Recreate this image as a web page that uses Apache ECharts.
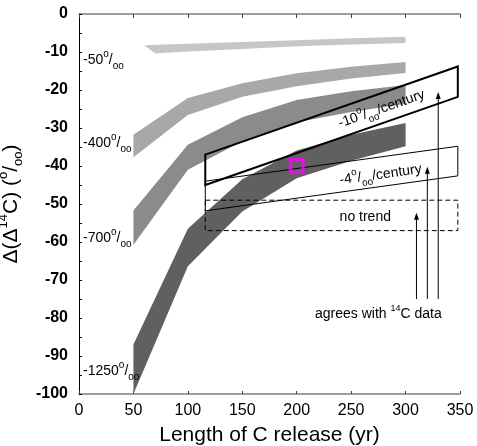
<!DOCTYPE html>
<html>
<head>
<meta charset="utf-8">
<script src="https://cdn.jsdelivr.net/npm/echarts@6/dist/echarts.min.js"></script>
<style>
  html, body { margin: 0; padding: 0; background: #fff; }
  #chart { width: 477px; height: 446px; }
</style>
</head>
<body>
<div id="chart"></div>
<script>
// Modelled Δ(Δ14C) envelopes (per mil) versus length of C release (yr),
// one band per size of the 14C-depleted release.
const band50Upper   = [[60, -8.2], [100, -7.8], [150, -7.4], [200, -6.9], [250, -6.4], [300, -6.0]];
const band50Lower   = [[70, -10.4], [100, -9.9], [150, -9.2], [200, -8.5], [250, -8.0], [300, -7.6]];
const band400Upper  = [[50, -31.8], [100, -22.1], [150, -18.2], [200, -15.6], [250, -13.9], [300, -12.6]];
const band400Lower  = [[50, -37.7], [100, -26.6], [150, -21.8], [200, -19.0], [250, -17.0], [300, -15.5]];
const band700Upper  = [[50, -51.7], [100, -34.4], [150, -27.2], [200, -22.6], [250, -20.3], [300, -18.7]];
const band700Lower  = [[50, -60.7], [100, -41.0], [150, -33.5], [200, -28.5], [250, -25.8], [300, -23.6]];
const band1250Upper = [[50, -87.0], [100, -56.5], [150, -43.5], [200, -35.9], [250, -31.8], [300, -28.7]];
const band1250Lower = [[50, -100.0], [100, -66.4], [150, -52.0], [200, -43.2], [250, -38.6], [300, -34.8]];

const bandNames = ['-50', '-400', '-700', '-1250'];
const bandLabelPos = [[3.7, -12.2], [3.7, -33.9], [3.7, -59.1], [3.7, -94.0]];

// Observed-trend windows (corners, clockwise from top-left)
const trend10Box  = [[116, -37.0], [348, -13.8], [348, -21.8], [116, -45.0]];
const trend4Box   = [[116, -44.0], [348, -34.8], [348, -42.6], [116, -51.8]];
const noTrendBox  = [[116, -49.0], [348, -49.0], [348, -57.0], [116, -57.0]];

// Arrows: x, base, tip
const arrowData = [[310, -75, -52.3], [320, -75, -40.2], [330, -75, -20.5]];

// Highlighted scenario
const markedPoint = [[200, -40]];

const FONT = "'Liberation Sans', Arial, Helvetica, sans-serif";

function richFor(size, small) {
  return {
    t: { fontSize: size, fontFamily: FONT, fill: '#000', lineHeight: size + 8, verticalAlign: 'middle' },
    u: { fontSize: small, fontFamily: FONT, fill: '#000', lineHeight: small + 1, verticalAlign: 'top' },
    d: { fontSize: small, fontFamily: FONT, fill: '#000', lineHeight: small + 1, verticalAlign: 'bottom' }
  };
}
const permil = '{u|o}{t|/}{d|oo}';

function bandSeries(upper, lower, color) {
  const outline = upper.concat(lower.slice().reverse());
  return {
    type: 'custom', silent: true, z: 1,
    data: [upper[0]],
    renderItem: function (params, api) {
      return {
        type: 'polygon',
        shape: { points: outline.map(function (p) { return api.coord(p); }) },
        style: { fill: color, stroke: null }
      };
    }
  };
}

function boxSeries(box, width, dash) {
  return {
    type: 'custom', silent: true, z: 3,
    data: [box[0]],
    renderItem: function (params, api) {
      return {
        type: 'polygon',
        shape: { points: box.map(function (p) { return api.coord(p); }) },
        style: { fill: 'none', stroke: '#000', lineWidth: width, lineDash: dash || null }
      };
    }
  };
}

// Text annotations placed in data coordinates, optionally rotated along a box edge
function textSeries(items) {
  return {
    type: 'custom', silent: true, z: 5,
    data: items.map(function (it) { return [it.pos[0], it.pos[1]]; }),
    renderItem: function (params, api) {
      const it = items[params.dataIndex];
      const c = api.coord(it.pos);
      let rot = 0;
      if (it.edge) {
        const a = api.coord(it.edge[0]), b = api.coord(it.edge[1]);
        rot = Math.atan2(a[1] - b[1], b[0] - a[0]);
      }
      return {
        type: 'text', x: c[0], y: c[1], rotation: rot,
        style: {
          text: it.text, rich: richFor(it.size, it.small),
          align: it.align || 'center', verticalAlign: 'middle'
        }
      };
    }
  };
}

const textItems = bandNames.map(function (n, i) {
  return { pos: bandLabelPos[i], text: '{t|' + n + '}' + permil, size: 14, small: 10, align: 'left' };
}).concat([
  { pos: [278, -25.0], text: '{t|-10}' + permil + '{t|/century}', size: 14, small: 10,
    edge: [trend10Box[0], trend10Box[1]] },
  { pos: [277, -42.3], text: '{t|-4}' + permil + '{t|/century}', size: 14, small: 10,
    edge: [trend4Box[0], trend4Box[1]] },
  { pos: [263, -53.4], text: '{t|no trend}', size: 14, small: 10 },
  { pos: [275, -79.1], text: '{t|agrees with }{u|14}{t|C data}', size: 14, small: 9 }
]);

const option = {
  animation: false,
  backgroundColor: '#fff',
  grid: { left: 79, right: 17, top: 14, bottom: 52, containLabel: false, outerBoundsMode: 'none' },
  xAxis: [
    {
      type: 'value', min: 0, max: 350, interval: 50, position: 'bottom',
      axisLine: { onZero: false, lineStyle: { color: '#808080', width: 1.5 } },
      axisTick: { inside: true, length: 3, lineStyle: { color: '#444' } },
      axisLabel: { fontSize: 16, color: '#000', fontFamily: FONT, margin: 9 },
      splitLine: { show: false },
      name: 'Length of C release (yr)', nameLocation: 'middle', nameGap: 30,
      nameTextStyle: { fontSize: 21, color: '#000', fontFamily: FONT, lineHeight: 23 }
    },
    {
      type: 'value', min: 0, max: 350, interval: 50, position: 'top',
      axisLine: { onZero: false, lineStyle: { color: '#808080', width: 1.5 } },
      axisTick: { inside: true, length: 4, lineStyle: { color: '#444' } },
      axisLabel: { show: false },
      splitLine: { show: false }
    }
  ],
  yAxis: {
    type: 'value', min: -100, max: 0, interval: 10,
    axisLine: { show: true, onZero: false, lineStyle: { color: '#000', width: 1 } },
    axisTick: { show: true, inside: true, length: 3, lineStyle: { color: '#000' } },
    minorTick: { show: true, splitNumber: 2, length: 3, lineStyle: { color: '#000' } },
    axisLabel: { fontSize: 16, fontWeight: 'bold', color: '#000', fontFamily: FONT, margin: 11 },
    splitLine: { show: false },
    name: '{a|Δ(Δ}{s|14}{a|C) (}{s|o}{a|/}{b|oo}{a|)}',
    nameLocation: 'middle', nameGap: 42,
    nameTextStyle: {
      rich: {
        a: { fontSize: 21, color: '#000', fontFamily: FONT, lineHeight: 28, verticalAlign: 'middle' },
        s: { fontSize: 13, color: '#000', fontFamily: FONT, lineHeight: 14, verticalAlign: 'top' },
        b: { fontSize: 13, color: '#000', fontFamily: FONT, lineHeight: 14, verticalAlign: 'bottom' }
      }
    }
  },
  series: [
    bandSeries(band50Upper, band50Lower, '#c6c6c6'),
    bandSeries(band400Upper, band400Lower, '#a8a8a8'),
    bandSeries(band700Upper, band700Lower, '#8b8b8b'),
    bandSeries(band1250Upper, band1250Lower, '#606060'),
    boxSeries(noTrendBox, 1, [5, 3]),
    boxSeries(trend4Box, 1),
    boxSeries(trend10Box, 2),
    {
      type: 'custom', silent: true, z: 4,
      data: arrowData,
      encode: { x: 0, y: 1 },
      renderItem: function (params, api) {
        const b = api.coord([api.value(0), api.value(1)]);
        const t = api.coord([api.value(0), api.value(2)]);
        return {
          type: 'group',
          children: [
            { type: 'line', shape: { x1: b[0], y1: b[1], x2: t[0], y2: t[1] + 6 },
              style: { stroke: '#000', lineWidth: 1 } },
            { type: 'polygon', shape: { points: [[t[0], t[1]], [t[0] - 2.5, t[1] + 7], [t[0] + 2.5, t[1] + 7]] },
              style: { fill: '#000' } }
          ]
        };
      }
    },
    textSeries(textItems),
    {
      type: 'scatter', silent: true, z: 6,
      data: markedPoint,
      symbol: 'rect', symbolSize: 12.5,
      itemStyle: { color: 'rgba(0,0,0,0)', borderColor: '#ff00ff', borderWidth: 3.5 }
    }
  ]
};

const chart = echarts.init(document.getElementById('chart'), null, { renderer: 'canvas' });
chart.setOption(option);
</script>
</body>
</html>
